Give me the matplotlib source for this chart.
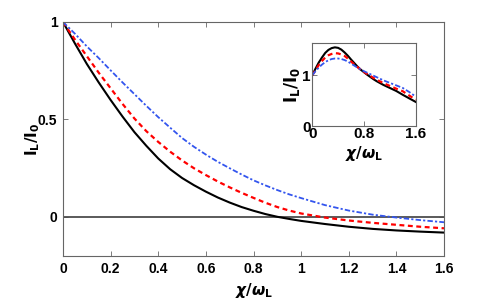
import numpy as np
import matplotlib
matplotlib.use("Agg")
import matplotlib.pyplot as plt

# main panel: I_L/I_0 against chi/omega_L
chi = [0.0, 0.05, 0.1, 0.15, 0.2, 0.25, 0.3, 0.35, 0.4, 0.45, 0.5, 0.55, 0.6, 0.65,
       0.7, 0.75, 0.8, 0.85, 0.9, 0.95, 1.0, 1.1, 1.2, 1.3, 1.4, 1.5, 1.6]
black = [1.00, 0.89, 0.785, 0.69, 0.60, 0.515, 0.435, 0.365, 0.30, 0.245, 0.20, 0.163,
         0.13, 0.10, 0.074, 0.051, 0.032, 0.015, 0.001, -0.01, -0.02,
         -0.036, -0.05, -0.061, -0.069, -0.075, -0.08]
red = [1.00, 0.91, 0.825, 0.74, 0.66, 0.58, 0.505, 0.44, 0.385, 0.335, 0.29, 0.25,
       0.215, 0.182, 0.152, 0.124, 0.098, 0.073, 0.051, 0.033, 0.018,
       -0.003, -0.018, -0.03, -0.04, -0.05, -0.058]
blue = [1.00, 0.94, 0.875, 0.815, 0.752, 0.69, 0.63, 0.57, 0.512, 0.458, 0.405, 0.36,
        0.32, 0.283, 0.25, 0.218, 0.188, 0.162, 0.138, 0.116, 0.097,
        0.061, 0.033, 0.012, -0.003, -0.016, -0.027]

# inset
ins_black = [1.00, 1.13, 1.25, 1.35, 1.44, 1.50, 1.535, 1.55, 1.54, 1.505, 1.45, 1.385,
             1.31, 1.24, 1.17, 1.11, 1.06, 1.01, 0.965, 0.92, 0.88,
             0.81, 0.75, 0.69, 0.615, 0.545, 0.475]
ins_red = [1.00, 1.10, 1.20, 1.28, 1.35, 1.395, 1.42, 1.435, 1.43, 1.41, 1.38, 1.33,
           1.27, 1.215, 1.16, 1.11, 1.065, 1.025, 0.985, 0.945, 0.91,
           0.845, 0.79, 0.735, 0.685, 0.60, 0.52]
ins_blue = [1.00, 1.08, 1.15, 1.21, 1.26, 1.295, 1.32, 1.33, 1.33, 1.32, 1.30, 1.27,
            1.23, 1.19, 1.15, 1.115, 1.08, 1.05, 1.02, 0.99, 0.96,
            0.90, 0.85, 0.80, 0.75, 0.67, 0.58]

xticks = [0, 0.2, 0.4, 0.6, 0.8, 1.0, 1.2, 1.4, 1.6]
xticklabels = ["0", "0.2", "0.4", "0.6", "0.8", "1", "1.2", "1.4", "1.6"]

plt.rcParams['font.family'] = ['Liberation Sans Narrow', 'Liberation Sans', 'DejaVu Sans']
plt.rcParams['font.weight'] = 'bold'

fig = plt.figure(figsize=(4.91, 3.0), dpi=100)
ax = fig.add_axes([0.1283, 0.1467, 0.776, 0.78])


def style(a):
    for s in a.spines.values():
        s.set_color('0.4')
        s.set_linewidth(0.8)
    a.tick_params(direction='in', top=True, right=True, length=3.5, width=0.6,
                  color='0.4', labelsize=10, pad=4)
    for t in a.get_xticklabels() + a.get_yticklabels():
        t.set_fontweight('bold')


ax.axhline(0, color='0.3', lw=1.3)
ax.plot(chi, black, color='k', lw=1.5)
ax.plot(chi, red, color='red', lw=1.6, dashes=(2.2, 1.6))
ax.plot(chi, blue, color='#3355ee', lw=1.3, dashes=(3, 1.2, 1.2, 1.2))
ax.set_xlim(0, 1.6)
ax.set_ylim(-0.2, 1)
ax.set_xticks(xticks)
ax.set_xticklabels(xticklabels)
ax.set_yticks([0, 0.5, 1])
ax.set_yticklabels(["0", "0.5", "1"])
style(ax)
ax.set_xlabel(r'$\chi/\omega_{\mathbf{L}}$', fontsize=11, labelpad=4)
ax.set_ylabel(r'$\mathbf{I_L/I_0}$', fontsize=11, labelpad=-3)

axi = fig.add_axes([0.636, 0.58, 0.2106, 0.2757])
axi.plot(chi, ins_black, color='k', lw=1.5)
axi.plot(chi, ins_red, color='red', lw=1.6, dashes=(2.2, 1.6))
axi.plot(chi, ins_blue, color='#3355ee', lw=1.3, dashes=(3, 1.2, 1.2, 1.2))
axi.set_xlim(0, 1.6)
axi.set_ylim(0, 1.63)
axi.set_xticks([0, 0.8, 1.6])
axi.set_xticklabels(["0", "0.8", "1.6"])
axi.set_yticks([0, 1])
axi.set_yticklabels(["0", "1"])
style(axi)
axi.tick_params(labelsize=11, pad=1)
axi.set_xlabel(r'$\chi/\omega_{\mathbf{L}}$', fontsize=11, labelpad=2)
axi.set_ylabel(r'$\mathbf{I_L/I_0}$', fontsize=12, labelpad=0)

fig.savefig("out.png", dpi=100)
